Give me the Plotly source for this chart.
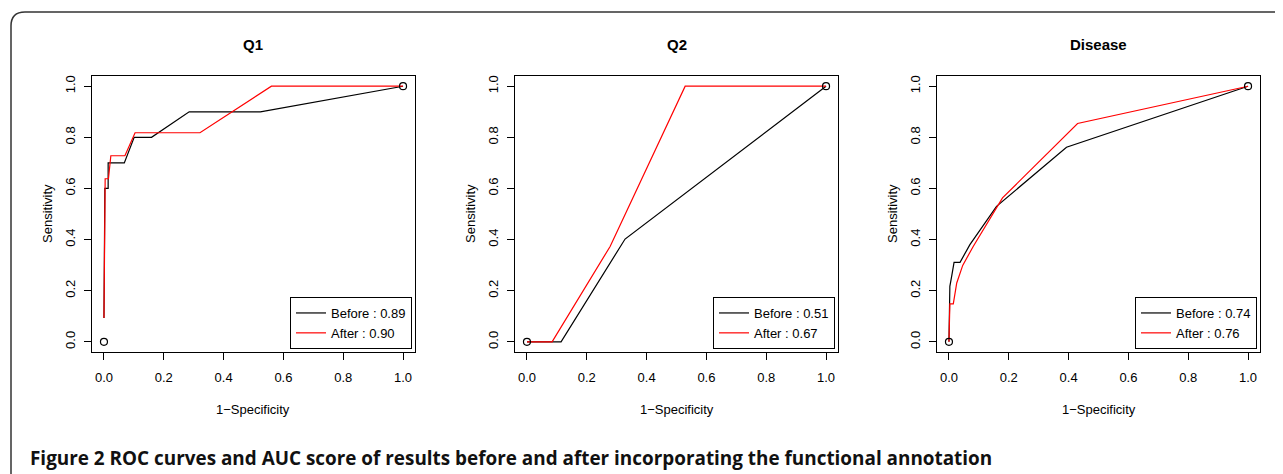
import plotly.graph_objects as go

# ---------------- data ----------------
panel_titles = ["Q1", "Q2", "Disease"]
before_auc = ["0.89", "0.51", "0.74"]
after_auc = ["0.90", "0.67", "0.76"]

q1_before_x = [0.0, 0.002, 0.003, 0.014, 0.014, 0.068, 0.101, 0.159, 0.285, 0.523, 1.0]
q1_before_y = [0.093, 0.45, 0.60, 0.60, 0.70, 0.70, 0.80, 0.80, 0.90, 0.90, 1.0]
q1_after_x = [0.0, 0.002, 0.004, 0.015, 0.023, 0.070, 0.104, 0.321, 0.560, 1.0]
q1_after_y = [0.093, 0.45, 0.638, 0.638, 0.728, 0.728, 0.818, 0.818, 1.0, 1.0]

q2_before_x = [0.0, 0.114, 0.328, 1.0]
q2_before_y = [0.0, 0.0, 0.402, 1.0]
q2_after_x = [0.0, 0.084, 0.278, 0.529, 1.0]
q2_after_y = [0.0, 0.0, 0.373, 1.0, 1.0]

dis_before_x = [0.0, 0.003, 0.009, 0.017, 0.037, 0.070, 0.159, 0.393, 1.0]
dis_before_y = [0.0, 0.217, 0.256, 0.311, 0.311, 0.380, 0.530, 0.761, 1.0]
dis_after_x = [0.0, 0.003, 0.0145, 0.026, 0.046, 0.081, 0.179, 0.430, 1.0]
dis_after_y = [0.0, 0.148, 0.148, 0.230, 0.299, 0.373, 0.563, 0.854, 1.0]

end_points_x = [0.0, 1.0]
end_points_y = [0.0, 1.0]

tick_vals = [0.0, 0.2, 0.4, 0.6, 0.8, 1.0]
tick_text = ["0.0", "0.2", "0.4", "0.6", "0.8", "1.0"]

caption_bold = "Figure 2"
caption_rest = "ROC curves and AUC score of results before and after incorporating the functional annotation"

# ---------------- layout helpers ----------------
OFF = 8  # default page body margin
W, H = 1283 - OFF, 474 - OFF
box_left = [92, 515, 937]
box_w = 323
box_top, box_bot = 76, 352


def px(x):
    return (x - OFF) / W


def py(y):
    return 1 - (y - OFF) / H


FONT = "Liberation Sans, Arial, sans-serif"

fig = go.Figure()

series = [
    (q1_before_x, q1_before_y, q1_after_x, q1_after_y),
    (q2_before_x, q2_before_y, q2_after_x, q2_after_y),
    (dis_before_x, dis_before_y, dis_after_x, dis_after_y),
]

layout_upd = {}
annotations = []
for i, (bx, by, ax_, ay) in enumerate(series):
    n = "" if i == 0 else str(i + 1)
    xa, ya = "x" + n, "y" + n
    lg = "legend" + n
    fig.add_trace(go.Scatter(x=bx, y=by, mode="lines", name="Before : " + before_auc[i],
                             line=dict(color="black", width=1.2), xaxis=xa, yaxis=ya, legend=lg))
    fig.add_trace(go.Scatter(x=ax_, y=ay, mode="lines", name="After : " + after_auc[i],
                             line=dict(color="red", width=1.2), xaxis=xa, yaxis=ya, legend=lg))
    fig.add_trace(go.Scatter(x=end_points_x, y=end_points_y, mode="markers", showlegend=False,
                             marker=dict(symbol="circle-open", size=7, color="black", line=dict(width=1.2)),
                             xaxis=xa, yaxis=ya, hoverinfo="skip"))
    L = box_left[i]
    R = L + box_w
    axis_common = dict(range=[-0.04, 1.04], showgrid=False, zeroline=False, showline=True, mirror=True,
                       linecolor="black", linewidth=1, ticks="outside", ticklen=7, tickcolor="black",
                       tickwidth=1, tickvals=tick_vals, ticktext=tick_text,
                       tickfont=dict(family=FONT, size=13, color="black"), fixedrange=True)
    layout_upd["xaxis" + n] = dict(axis_common, domain=[px(L), px(R)], anchor=ya, ticklabelstandoff=6)
    layout_upd["yaxis" + n] = dict(axis_common, domain=[py(box_bot), py(box_top)], anchor=xa,
                                   tickangle=-90, ticklabelstandoff=4)
    layout_upd[lg] = dict(x=px(R - 3), y=py(box_bot - 3), xanchor="right", yanchor="bottom",
                          bgcolor="white", bordercolor="black", borderwidth=1,
                          font=dict(family=FONT, size=13, color="black"), traceorder="normal",
                          itemwidth=30, tracegroupgap=0)
    # panel title
    annotations.append(dict(text="<b>" + panel_titles[i] + "</b>", x=px((L + R) / 2), y=py(45),
                            xref="paper", yref="paper", showarrow=False, xanchor="center", yanchor="middle",
                            font=dict(family=FONT, size=15, color="black")))
    # axis titles
    annotations.append(dict(text="1\u2212Specificity", x=px((L + R) / 2), y=py(409),
                            xref="paper", yref="paper", showarrow=False, xanchor="center", yanchor="middle",
                            font=dict(family=FONT, size=13, color="black")))
    annotations.append(dict(text="Sensitivity", x=px(L - 45), y=py((box_top + box_bot) / 2),
                            xref="paper", yref="paper", showarrow=False, xanchor="center", yanchor="middle",
                            textangle=-90, font=dict(family=FONT, size=13, color="black")))

annotations.append(dict(text="<b>" + caption_bold + "</b> <b>" + caption_rest + "</b>",
                        x=px(28), y=py(458), xref="paper", yref="paper", showarrow=False,
                        xanchor="left", yanchor="middle",
                        font=dict(family="Open Sans, Noto Sans, sans-serif", size=18.9, color="#111111")))

# rounded outer frame
frame_path = "M {a},{b} L {a},{c} Q {a},{d} {e},{d} L {f},{d}".format(
    a=px(11), b=py(490), c=py(26), d=py(12), e=px(25), f=px(1300))

fig.update_layout(
    width=W, height=H,
    margin=dict(l=0, r=0, t=0, b=0),
    paper_bgcolor="white", plot_bgcolor="white",
    annotations=annotations,
    shapes=[dict(type="path", path=frame_path, xref="paper", yref="paper",
                 line=dict(color="#333333", width=1.5))],
    **layout_upd,
)

fig.write_html("out.html")
